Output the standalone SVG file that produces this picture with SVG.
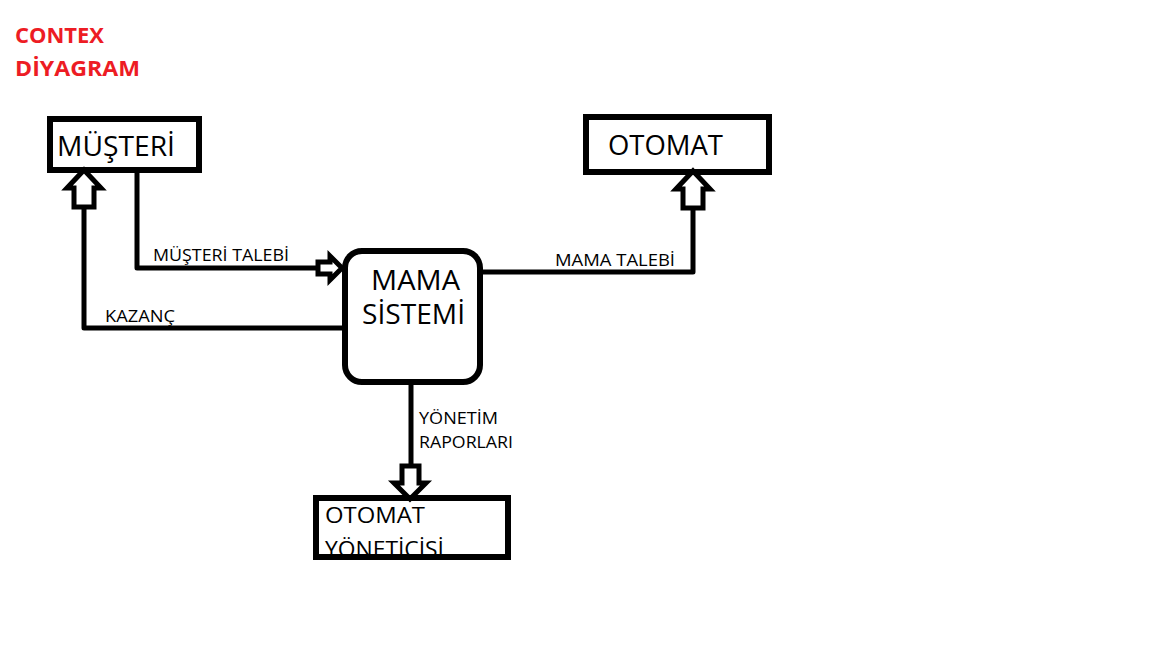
<svg xmlns="http://www.w3.org/2000/svg" width="1152" height="648" viewBox="0 0 1152 648">
<style>
.box{fill:none;stroke:#000;stroke-width:6}
.line{fill:none;stroke:#000;stroke-width:5;stroke-linejoin:round}
.arrow{fill:#fff;stroke:#000;stroke-width:5;stroke-linejoin:miter}
.big{font-family:"Open Sans","Noto Sans","DejaVu Sans",sans-serif;font-size:28px;fill:#000}
.mid{font-family:"Open Sans","Noto Sans","DejaVu Sans",sans-serif;font-size:22px;fill:#000}
.lbl{font-family:"Open Sans","Noto Sans","DejaVu Sans",sans-serif;font-size:16.5px;fill:#000}
.title{font-family:"Open Sans","Noto Sans","DejaVu Sans",sans-serif;font-size:22px;font-weight:bold;fill:#ED1C24}
</style>
<rect width="1152" height="648" fill="#fff"/>
<g id="title">
<text class="title" x="15" y="43" textLength="89" lengthAdjust="spacingAndGlyphs">CONTEX</text>
<text class="title" x="15" y="76" textLength="125" lengthAdjust="spacingAndGlyphs">DİYAGRAM</text>
</g>
<g id="connectors">
<polyline class="line" points="137,171 137,268 318,268"/>
<polygon class="arrow" points="318,262 330,262 330,256 342,268 330,280 330,274 318,274"/>
<text class="lbl" x="153" y="261" textLength="136" lengthAdjust="spacingAndGlyphs">MÜŞTERİ TALEBİ</text>
<polyline class="line" points="344,328 84,328 84,207"/>
<polygon class="arrow" points="84,170 101,188 94,188 94,207 74,207 74,188 67,188"/>
<text class="lbl" x="105" y="322" textLength="70" lengthAdjust="spacingAndGlyphs">KAZANÇ</text>
<polyline class="line" points="481,272 693,272 693,208"/>
<polygon class="arrow" points="693,171 710,189 703,189 703,208 683,208 683,189 676,189"/>
<text class="lbl" x="555" y="266" textLength="120" lengthAdjust="spacingAndGlyphs">MAMA TALEBİ</text>
<line class="line" x1="411" y1="384" x2="411" y2="466"/>
<polygon class="arrow" points="402,466 419,466 419,483 426,483 410,499 394,483 402,483"/>
<text class="lbl" x="419" y="424" textLength="79" lengthAdjust="spacingAndGlyphs">YÖNETİM</text>
<text class="lbl" x="419" y="448" textLength="94" lengthAdjust="spacingAndGlyphs">RAPORLARI</text>
</g>
<g id="musteri">
<rect class="box" x="50" y="119" width="149" height="51"/>
<text class="big" x="57" y="156" textLength="118" lengthAdjust="spacingAndGlyphs">MÜŞTERİ</text>
</g>
<g id="otomat">
<rect class="box" x="586" y="117" width="183" height="55"/>
<text class="big" x="608" y="155" textLength="115" lengthAdjust="spacingAndGlyphs">OTOMAT</text>
</g>
<g id="mama-sistemi">
<rect class="box" x="345" y="251" width="135" height="131" rx="17"/>
<text class="big" x="371" y="290" font-size="24.5" textLength="89" lengthAdjust="spacingAndGlyphs">MAMA</text>
<text class="big" x="362" y="324" font-size="24.5" textLength="103" lengthAdjust="spacingAndGlyphs">SİSTEMİ</text>
</g>
<g id="otomat-yoneticisi">
<text class="mid" x="325" y="523" textLength="100" lengthAdjust="spacingAndGlyphs">OTOMAT</text>
<text class="mid" x="325" y="557" textLength="119" lengthAdjust="spacingAndGlyphs">YÖNETİCİSİ</text>
<rect x="314" y="554" width="198" height="8" fill="#fff"/>
<rect class="box" x="316" y="498" width="192" height="59"/>
</g>
</svg>
